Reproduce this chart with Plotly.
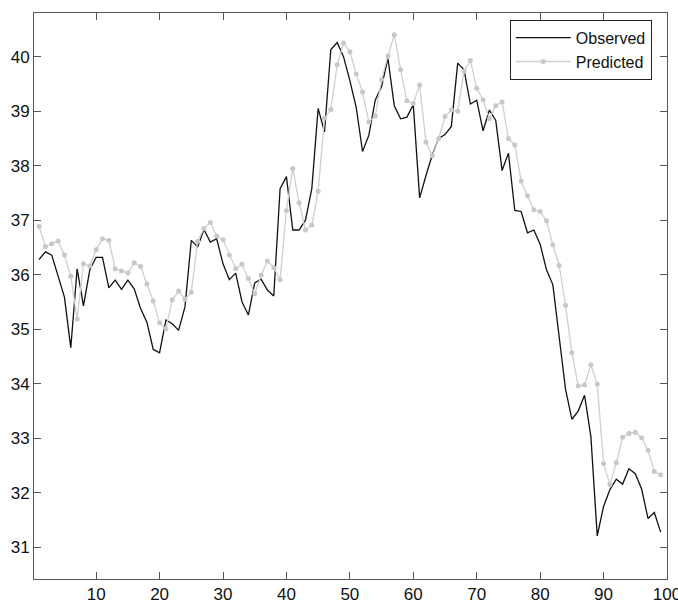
import plotly.graph_objects as go

# Time index of the series
t = list(range(1, 100))

observed = [
    36.28, 36.42, 36.36, 35.99, 35.59, 34.66, 36.11, 35.43, 36.09, 36.32,
    36.32, 35.76, 35.90, 35.73, 35.90, 35.74, 35.38, 35.13, 34.63, 34.57,
    35.17, 35.10, 34.98, 35.41, 36.63, 36.51, 36.83, 36.60, 36.66, 36.20,
    35.91, 36.03, 35.50, 35.26, 35.85, 35.92, 35.72, 35.61, 37.58, 37.80,
    36.82, 36.82, 37.00, 37.58, 39.05, 38.62, 40.13, 40.26, 40.00, 39.56,
    39.07, 38.26, 38.56, 39.20, 39.45, 39.97, 39.10, 38.86, 38.89, 39.12,
    37.41, 37.82, 38.20, 38.50, 38.57, 38.72, 39.88, 39.76, 39.13, 39.20,
    38.64, 39.02, 38.83, 37.91, 38.23, 37.18, 37.16, 36.77, 36.82, 36.56,
    36.09, 35.82, 34.87, 33.90, 33.35, 33.50, 33.79, 33.03, 31.21, 31.75,
    32.06, 32.25, 32.16, 32.44, 32.35, 32.07, 31.53, 31.64, 31.28,
]

predicted = [
    36.89, 36.52, 36.57, 36.62, 36.36, 35.97, 35.19, 36.20, 36.16, 36.46,
    36.66, 36.63, 36.11, 36.07, 36.03, 36.22, 36.15, 35.83, 35.52, 35.12,
    35.01, 35.54, 35.70, 35.55, 35.68, 36.61, 36.85, 36.96, 36.71, 36.64,
    36.36, 36.11, 36.19, 35.93, 35.65, 35.99, 36.25, 36.13, 35.91, 37.18,
    37.95, 37.32, 36.82, 36.91, 37.53, 38.87, 39.03, 39.85, 40.25, 40.09,
    39.68, 39.35, 38.80, 38.91, 39.58, 40.01, 40.40, 39.76, 39.19, 39.14,
    39.48, 38.43, 38.18, 38.50, 38.90, 39.02, 39.00, 39.73, 39.93, 39.42,
    39.21, 38.86, 39.10, 39.17, 38.50, 38.38, 37.72, 37.45, 37.19, 37.16,
    36.99, 36.55, 36.17, 35.44, 34.57, 33.96, 33.98, 34.35, 33.99, 32.54,
    32.15, 32.55, 33.02, 33.09, 33.11, 33.01, 32.78, 32.39, 32.33,
]

x_ticks = [10, 20, 30, 40, 50, 60, 70, 80, 90, 100]
y_ticks = [31, 32, 33, 34, 35, 36, 37, 38, 39, 40]

FONT = "Liberation Sans, Arial, sans-serif"

fig = go.Figure()
fig.add_trace(go.Scatter(
    x=t, y=observed, name="Observed", mode="lines",
    line=dict(color="#111111", width=1.3),
))
fig.add_trace(go.Scatter(
    x=t, y=predicted, name="Predicted", mode="lines+markers",
    line=dict(color="#cfcfcf", width=1.3),
    marker=dict(color="#c8c8c8", size=5),
))

axis_common = dict(
    showline=True, linecolor="#555555", linewidth=1, mirror="ticks",
    ticks="inside", ticklen=7, tickcolor="#555555", tickwidth=1,
    showgrid=False, zeroline=False, automargin=False,
    tickfont=dict(family=FONT, size=17, color="#111111"),
)

fig.update_xaxes(range=[0.2, 100], tickvals=x_ticks,
                 ticklabeloverflow="allow", **axis_common)
fig.update_yaxes(range=[30.42, 40.8], tickvals=y_ticks, **axis_common)

fig.update_layout(
    width=678, height=609,
    margin=dict(l=34, r=11, t=13, b=30, autoexpand=False),
    plot_bgcolor="white", paper_bgcolor="white",
    legend=dict(
        x=0.976, y=0.988, xanchor="right", yanchor="top",
        bgcolor="white", bordercolor="#222222", borderwidth=1,
        font=dict(family=FONT, size=16, color="#111111"),
        itemwidth=55, tracegroupgap=0,
    ),
)

fig.write_html("out.html")
